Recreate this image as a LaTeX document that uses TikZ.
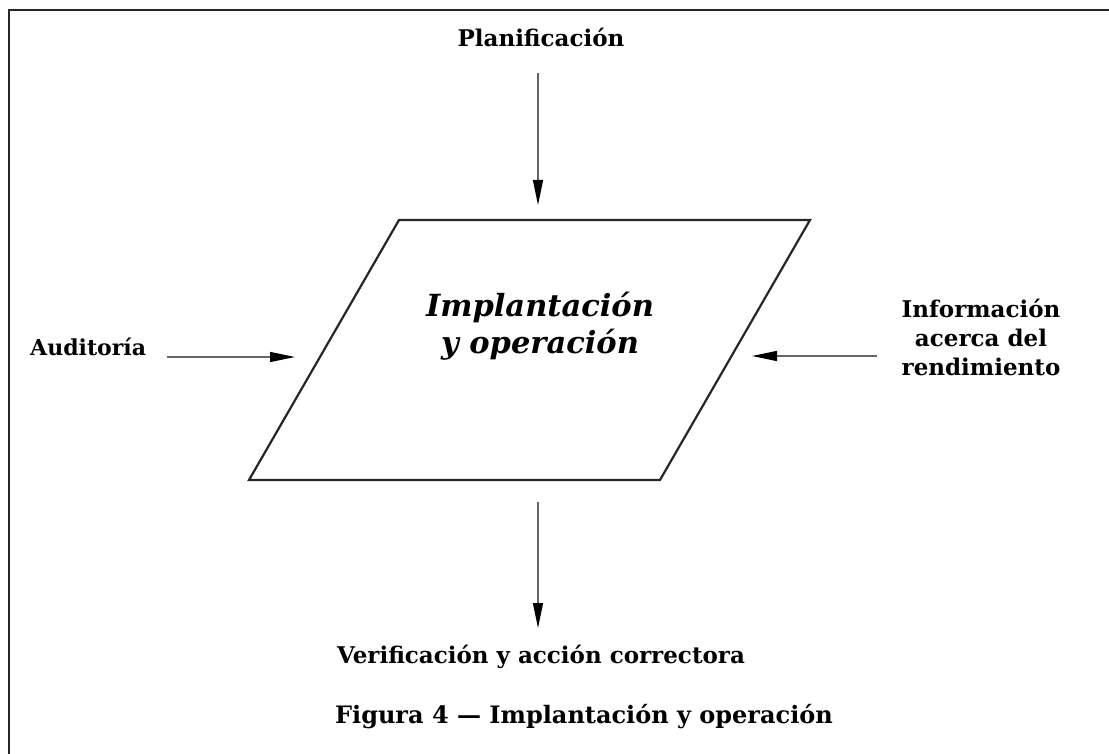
\documentclass[tikz,border=0pt]{standalone}
\usepackage{fontspec}
\setmainfont{DejaVu Serif}
\usetikzlibrary{arrows.meta}
\tikzset{
  lbl/.style={font=\bfseries\fontsize{23}{29}\selectfont, inner sep=0pt},
  flow/.style={draw=black!60, line width=1.3pt, -{Triangle[length=25pt,width=10pt,color=black]}},
  frame/.style={draw=black!85, line width=2pt},
  shapeline/.style={draw=black!85, line width=2.2pt, line join=miter}
}
\begin{document}
\begin{tikzpicture}[x=1pt,y=-1pt]
\useasboundingbox (0,0) rectangle (1109,754);
\fill[white] (0,0) rectangle (1109,754);
% frame
\draw[frame] (9,754) -- (9,10) -- (1109,10);
% parallelogram
\coordinate (bl) at (249,480);
\coordinate (br) at (660,480);
\coordinate (tr) at (810,220);
\coordinate (tl) at (399,220);
\draw[shapeline] (bl) -- (br) -- (tr) -- (tl) -- cycle;
\node[font=\bfseries\itshape\fontsize{30.5}{37}\selectfont, align=center, inner sep=0pt] (core) at (540,326) {Implantación\\y operación};
% labels
\node[lbl, anchor=base] (plan) at (541,47) {Planificación};
\node[lbl, font=\bfseries\fontsize{22}{29}\selectfont, anchor=base west] (aud) at (30,355) {Auditoría};
\node[lbl, align=center] (info) at (981,337) {Información\\acerca del\\rendimiento};
\node[lbl, anchor=base] (ver) at (541,663) {Verificación y acción correctora};
\node[lbl, font=\bfseries\fontsize{24}{29}\selectfont, anchor=base] (cap) at (584,723) {Figura 4 — Implantación y operación};
% arrow endpoints
\coordinate (pa) at (538,73);  \coordinate (pb) at (538,205);
\coordinate (va) at (538,502); \coordinate (vb) at (538,628);
\coordinate (aa) at (167,357); \coordinate (ab) at (295,357);
\coordinate (ia) at (877,356); \coordinate (ib) at (752,356);
\draw[flow] (pa) -- (pb);
\draw[flow] (va) -- (vb);
\draw[flow] (aa) -- (ab);
\draw[flow] (ia) -- (ib);
\end{tikzpicture}
\end{document}
